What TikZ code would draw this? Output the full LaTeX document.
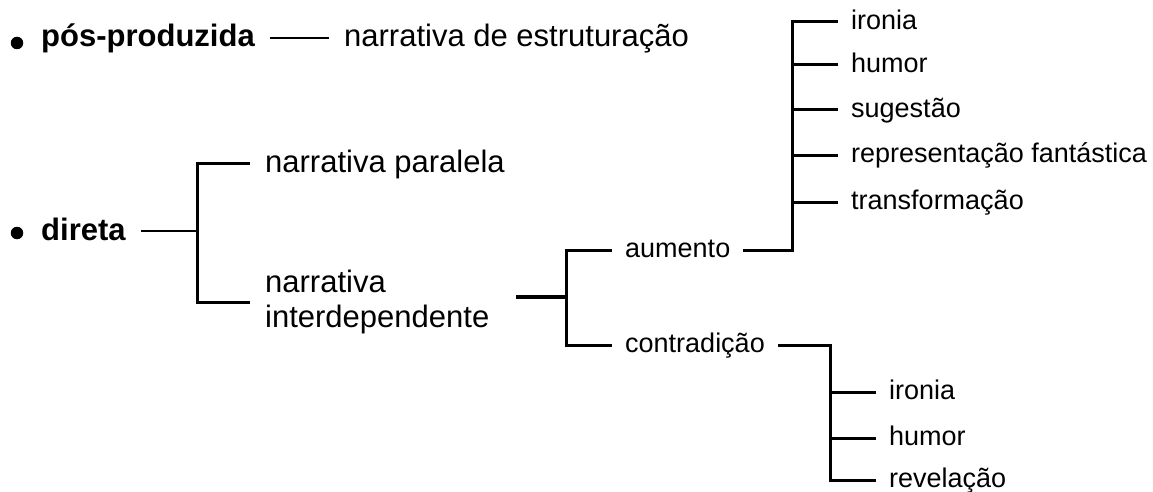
\documentclass[tikz,border=0pt]{standalone}
\usepackage{fontspec}
\setmainfont{Liberation Sans}

\tikzset{
  big/.style={font=\fontsize{31}{35}\selectfont, inner xsep=15pt, anchor=west},
  bigone/.style={big, text height=25pt, text depth=7pt},
  bigbold/.style={bigone, font=\fontsize{31}{35}\selectfont\bfseries},
  small/.style={font=\fontsize{27}{31}\selectfont, inner xsep=13pt, anchor=west,
    text height=21.6pt, text depth=6.2pt},
  dot/.style={circle, fill, inner sep=0pt, minimum size=12.5pt},
  ln/.style={line width=3pt},
  thinln/.style={line width=2.2pt}
}

\begin{document}
\begin{tikzpicture}[x=1pt,y=-1pt]
\path[use as bounding box,fill=white] (0,0) rectangle (1153,492);

\node[dot] (d1) at (17,43) {};
\node[dot] (d2) at (17,233) {};

\node[bigbold] (pos) at (26,38) {pós-produzida};
\node[bigone] (estr) at (329,38) {narrativa de estruturação};
\node[bigbold] (dir) at (26,231) {direta};
\node[bigone] (par) at (250,163) {narrativa paralela};
\node[big,align=left] (int) at (250,302) {narrativa\\interdependente};

\node[small] (aum) at (612,250) {aumento};
\node[small] (con) at (612,345) {contradição};

\node[small] (ir1) at (838,22) {ironia};
\node[small] (hu1) at (838,65) {humor};
\node[small] (sug) at (838,110) {sugestão};
\node[small] (rep) at (838,155) {representação fantástica};
\node[small] (tra) at (838,202) {transformação};

\node[small] (ir2) at (876,392) {ironia};
\node[small] (hu2) at (876,438) {humor};
\node[small] (rev) at (876,480) {revelação};

\coordinate (j1) at (197,231);
\coordinate (j2) at (566,297);
\coordinate (j3) at (792,250);
\coordinate (j4) at (830,345);

\path[thinln]
(pos) edge (estr)
(dir) edge (j1);

\draw[ln] (par.west) -| (j1) |- (int.west);
\draw[line width=4pt,shorten <=12pt] (int.east |- j2) -- (j2);
\draw[ln] (aum.west) -| (j2) |- (con.west);

\draw[ln] (aum.east) -- (j3) |- (ir1.west);
\foreach \n in {hu1,sug,rep,tra}
  \draw[ln] (\n.west) -- (\n.west -| j3);

\draw[ln] (con.east) -- (j4) |- (rev.west);
\foreach \n in {ir2,hu2}
  \draw[ln] (\n.west) -- (\n.west -| j4);
\end{tikzpicture}
\end{document}
